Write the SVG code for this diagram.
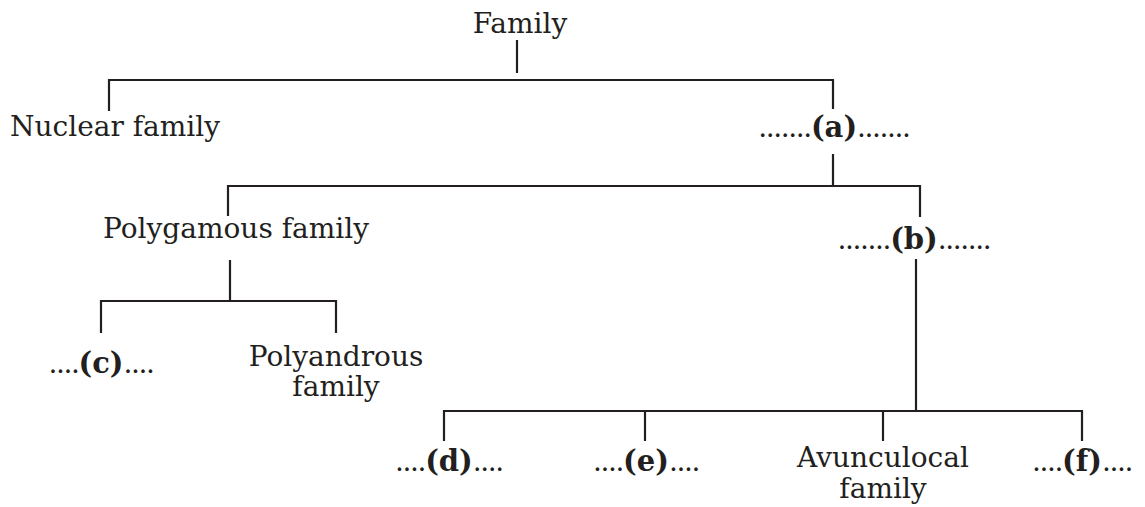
<svg xmlns="http://www.w3.org/2000/svg" width="1145" height="507" viewBox="0 0 1145 507">
  <style>
    .t { font-family: "DejaVu Serif", "Liberation Serif", serif; font-size: 28px; fill: #231f20; }
    .b { font-weight: bold; font-size: 29px; }
    .d { letter-spacing: -1.4px; }
    .c { stroke: #231f20; stroke-width: 2.2; fill: none; stroke-linecap: butt; }
  </style>
  <rect width="1145" height="507" fill="#ffffff"/>
  <g id="connectors" class="c">
    <path d="M517 40 V73"/>
    <path d="M109 111 V80 H833 V109"/>
    <path d="M833 154 V186"/>
    <path d="M228 216 V186 H920 V217"/>
    <path d="M230 260 V301"/>
    <path d="M101 333 V301 H336 V333"/>
    <path d="M916 259 V411"/>
    <path d="M444 441 V411 H1082 V441"/>
    <path d="M645 411 V441"/>
    <path d="M883 411 V441"/>
  </g>
  <g id="family"><text class="t" x="520" y="33" text-anchor="middle">Family</text></g>
  <g id="nuclear"><text class="t" x="10" y="136">Nuclear family</text></g>
  <g id="a"><text class="t" x="834" y="137" text-anchor="middle"><tspan class="d">.......</tspan><tspan class="b">(a)</tspan><tspan class="d">.......</tspan></text></g>
  <g id="polygamous"><text class="t" x="236" y="238" text-anchor="middle">Polygamous family</text></g>
  <g id="b"><text class="t" x="914" y="249" text-anchor="middle"><tspan class="d">.......</tspan><tspan class="b">(b)</tspan><tspan class="d">.......</tspan></text></g>
  <g id="c"><text class="t" x="101" y="373" text-anchor="middle"><tspan class="d">....</tspan><tspan class="b">(c)</tspan><tspan class="d">....</tspan></text></g>
  <g id="polyandrous"><text class="t" text-anchor="middle"><tspan x="336" y="366">Polyandrous</tspan><tspan x="336" y="396">family</tspan></text></g>
  <g id="d"><text class="t" x="449" y="471" text-anchor="middle"><tspan class="d">....</tspan><tspan class="b">(d)</tspan><tspan class="d">....</tspan></text></g>
  <g id="e"><text class="t" x="646" y="471" text-anchor="middle"><tspan class="d">....</tspan><tspan class="b">(e)</tspan><tspan class="d">....</tspan></text></g>
  <g id="avunculocal"><text class="t" text-anchor="middle"><tspan x="883" y="467">Avunculocal</tspan><tspan x="883" y="498">family</tspan></text></g>
  <g id="f"><text class="t" x="1082" y="471" text-anchor="middle"><tspan class="d">....</tspan><tspan class="b">(f)</tspan><tspan class="d">....</tspan></text></g>
</svg>
